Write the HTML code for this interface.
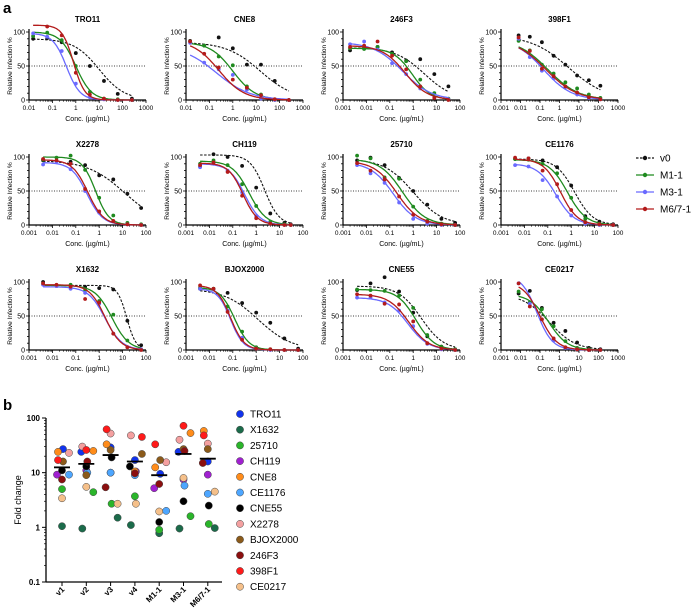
<!DOCTYPE html>
<html><head><meta charset="utf-8"><style>
html,body{margin:0;padding:0;background:#fff;}
svg{display:block;font-family:"Liberation Sans",Arial,sans-serif;}
</style></head><body>
<svg id="fig" width="691" height="614" viewBox="0 0 691 614" xmlns="http://www.w3.org/2000/svg">
<text x="3" y="13" font-size="15" font-weight="bold">a</text>
<text x="3" y="410" font-size="15" font-weight="bold">b</text>
<g id="legendA"></g>
</svg>
<script>
// ---------- Panel a data ----------
const panelNames = ["TRO11","CNE8","246F3","398F1","X2278","CH119","25710","CE1176","X1632","BJOX2000","CNE55","CE0217"];
const panelXMin = [-2,-2,-3,-3,-3,-3,-3,-3,-3,-3,-3,-3];
const panelXMax = [3,3,2,3,2,2,2,2,2,2,2,3];
const panelConcs = [
 [0.015,0.06,0.25,1,4,16,62,250],
 [0.015,0.06,0.25,1,4,16,62,250],
 [0.002,0.008,0.03,0.125,0.5,2,8,32],
 [0.008,0.03,0.125,0.5,2,8,32,125],
 [0.004,0.015,0.06,0.25,1,4,16,62],
 [0.004,0.015,0.06,0.25,1,4,16,30],
 [0.004,0.015,0.06,0.25,1,4,16,62],
 [0.004,0.015,0.06,0.25,1,4,16,62],
 [0.004,0.015,0.06,0.25,1,4,16,62],
 [0.004,0.015,0.06,0.25,1,4,16,62],
 [0.004,0.015,0.06,0.25,1,4,16,62],
 [0.008,0.03,0.125,0.5,2,8,32,125]
];
const seriesNames = ["v0","M1-1","M3-1","M6/7-1"];
// fit parameters per panel: [v0, M1-1, M3-1, M6/7-1]
const fitTop = [[90,100,98,110],[85,85,80,88],[77,76,85,80],[95,90,90,90],[95,100,92,96],[103,94,90,91],[97,97,92,94],[97,96,90,97],[95,95,93,96],[90,92,90,95],[94,89,77,82],[82,82,110,100]];
const fitIC50 = [[10,1.0,0.4,0.8],[15,1,0.2,0.25],[3,0.9,0.35,0.45],[3,0.25,0.15,0.2],[12,0.7,0.3,0.33],[2.3,0.5,0.32,0.27],[1,0.35,0.14,0.2],[1.4,0.7,0.22,0.35],[15,3.5,1.8,1.8],[1.2,0.12,0.08,0.08],[2.2,1.3,0.6,0.65],[0.3,0.28,0.07,0.1]];
const fitHill = [[0.8,1.3,1.5,1.8],[0.6,0.9,0.6,0.8],[0.7,1.1,0.7,0.9],[0.45,0.55,0.6,0.55],[0.55,1.5,1.3,1.3],[1.4,1.2,1.3,1.4],[0.7,0.9,0.9,0.9],[1.1,1.1,1.1,1.2],[2.2,1.2,1.2,1.3],[0.6,1.4,1.6,1.5],[0.9,1.1,1.0,1.0],[0.65,0.9,1.1,1.0]];
const ptsV0 = [[90,91,85,69,50,28,9,2],[87,80,92,76,52,52,28,0],[73,76,78,70,58,60,38,20],[95,93,85,65,52,36,29,21],[95,94,93,88,73,67,46,25],[86,104,100,87,55,17,3,1],[95,99,88,69,50,30,9,3],[97,98,95,85,58,13,5,1],[100,94,95,93,91,89,43,7],[90,90,84,69,55,40,17,2],[88,98,107,86,55,20,5,1],[83,87,62,40,28,11,3,1]];
const ptsM1 = [[94,99,88,50,12,2,1,0],[86,80,64,51,20,8,1,0],[76,75,78,68,57,30,10,2],[87,73,52,39,26,17,8,3],[96,99,102,81,40,14,3,1],[90,95,88,60,28,5,1,0],[102,98,70,68,27,6,2,0],[97,96,90,76,40,9,2,0],[97,95,96,88,72,52,14,1],[92,90,64,27,4,1,0,0],[89,88,87,80,62,22,5,1],[86,70,60,35,13,3,1,0]];
const ptsM3 = [[98,93,72,24,4,1,0,0],[84,55,45,37,15,2,0,0],[82,86,74,54,38,17,4,1],[90,63,43,32,19,8,3,1],[89,93,82,50,18,5,1,0],[85,90,80,48,13,2,0,0],[88,76,62,33,9,2,0,0],[88,86,66,42,14,2,0,0],[96,94,90,84,68,24,4,1],[90,89,58,18,2,0,0,0],[77,77,70,58,35,9,1,0],[98,68,45,14,3,1,0,0]];
const ptsM6 = [[null,108,95,40,8,2,0,0],[86,68,48,30,18,7,1,0],[78,80,86,65,45,20,3,0],[92,72,46,35,20,11,4,1],[97,95,90,53,20,6,1,0],[88,92,78,43,10,2,0,0],[91,80,67,42,15,5,1,0],[99,98,80,60,22,4,1,0],[98,96,93,75,70,24,4,0],[95,90,56,15,2,1,0,0],[82,80,68,67,42,10,2,0],[98,64,45,17,4,1,0,0]];
const seriesColors = ["#111111","#1f8a1f","#6a6aff","#b31b1b"];

// ---------- Panel b data ----------
const strains = ["TRO11","X1632","25710","CH119","CNE8","CE1176","CNE55","X2278","BJOX2000","246F3","398F1","CE0217"];
const strainColors = ["#1133ee","#1b6b4a","#2ab52a","#a020d0","#ff8c1a","#4da6ff","#000000","#f4a0a0","#8b5a1a","#8b0f0f","#ff1a1a","#f5c08a"];
const variants = ["v1","v2","v3","v4","M1-1","M3-1","M6/7-1"];
const foldV1 = [27,1.05,5,9.2,24,9.2,11,23,16,7.5,17,3.4];
const foldV2 = [24,0.95,4.4,11,25,10,13,30,9,16,26,5.5];
const foldV3 = [29,1.5,2.7,10,33,10,19,52,26,5.4,62,2.7];
const foldV4 = [17,1.1,3.7,10.5,10.5,9,13,48,22,9.7,45,2.7];
const foldM1 = [9.5,0.78,0.9,5.2,12.5,2,1.25,15.5,17,6.2,33,1.95];
const foldM3 = [24,0.95,1.6,7.5,53,5.8,3,40,27,25,72,8];
const foldM6 = [16,0.97,1.15,9.2,58,4.1,2.5,34,27,15,48,4.5];
const foldMeans = [12.5,14.5,21,16,9,22,18];

const NS="http://www.w3.org/2000/svg";
const svg=document.getElementById('fig');
function mk(tag,attrs,parent){const e=document.createElementNS(NS,tag);for(const k in attrs)e.setAttribute(k,attrs[k]);(parent||svg).appendChild(e);return e;}

const colX=[29,186,343,501], rowY=[32,157,282], PW=117, PH=68;
const allPts=[ptsV0,ptsM1,ptsM3,ptsM6];
panelNames.forEach((name,p)=>{
  const ox=colX[p%4], oy=rowY[Math.floor(p/4)];
  const g=mk('g',{});
  
  
  const lo=panelXMin[p], hi=panelXMax[p];
  const xs=v=>ox+(Math.log10(v)-lo)/(hi-lo)*PW;
  const ys=v=>oy+PH-v/100*PH;
  const t=mk('text',{x:ox+PW/2,y:oy-10,'font-size':8,'font-weight':'bold','text-anchor':'middle'},g);t.textContent=name;
  
  
  // axes
  mk('line',{x1:ox,y1:oy-3,x2:ox,y2:oy+PH,stroke:'#000','stroke-width':1.2},g);
  mk('line',{x1:ox,y1:oy+PH,x2:ox+PW,y2:oy+PH,stroke:'#000','stroke-width':1.2},g);
  for(let v=0;v<=100;v+=10){const y=ys(v);mk('line',{x1:ox-(v%50?2:3),y1:y,x2:ox,y2:y,stroke:'#000','stroke-width':0.8},g);}
  [0,50,100].forEach(v=>{const tt=mk('text',{x:ox-4,y:ys(v)+2.5,'font-size':7,'text-anchor':'end'},g);tt.textContent=v;});
  for(let d=lo;d<=hi;d++){
    const x=ox+(d-lo)/(hi-lo)*PW;
    mk('line',{x1:x,y1:oy+PH,x2:x,y2:oy+PH+3,stroke:'#000','stroke-width':0.8},g);
    const lab=mk('text',{x:x,y:oy+PH+10,'font-size':6.5,'text-anchor':'middle'},g);
    lab.textContent=d<0?(Math.pow(10,d)).toFixed(-d):String(Math.pow(10,d));
    if(d<hi)for(let m=2;m<10;m++){const xm=xs(m*Math.pow(10,d));mk('line',{x1:xm,y1:oy+PH,x2:xm,y2:oy+PH+1.8,stroke:'#000','stroke-width':0.6},g);}
  }
  const xl=mk('text',{x:ox+PW/2,y:oy+PH+21,'font-size':7,'text-anchor':'middle'},g);xl.textContent='Conc. (µg/mL)';
  
  
  const yl=mk('text',{x:0,y:0,'font-size':6.5,'text-anchor':'middle',transform:`translate(${ox-17},${oy+PH/2}) rotate(-90)`},g);yl.textContent='Relative Infection %';
  
  
  mk('line',{x1:ox,y1:ys(50),x2:ox+PW,y2:ys(50),stroke:'#000','stroke-width':0.8,'stroke-dasharray':'1 1.5'},g);
  const concs=panelConcs[p];
  for(let s=0;s<4;s++){
    const top=fitTop[p][s], ic=fitIC50[p][s], h=fitHill[p][s];
    const l0=Math.log10(concs[0]), l1=Math.log10(concs[concs.length-1]);
    let d='';
    for(let i=0;i<=80;i++){const lx=l0+(l1-l0)*i/80;const c=Math.pow(10,lx);const y=top/(1+Math.pow(c/ic,h));d+=(i?'L':'M')+xs(c).toFixed(1)+','+ys(y).toFixed(1);}
    const path=mk('path',{d:d,fill:'none',stroke:seriesColors[s],'stroke-width':s===0?1.1:1.3,'stroke-dasharray':s===0?'2.5 1.5':'none'},g);
    
    
    allPts[s][p].forEach((v,i)=>{
      if(v===null)return;
      const c=mk('circle',{cx:xs(concs[i]),cy:ys(v),r:1.9,fill:seriesColors[s]},g);
      
      
    });
  }
});
// legend a
const lg=document.getElementById('legendA');
seriesNames.forEach((n,s)=>{
  const y=158+s*17;
  mk('line',{x1:636,y1:y,x2:654,y2:y,stroke:seriesColors[s],'stroke-width':1.3,'stroke-dasharray':s===0?'2.5 1.5':'none'},lg);
  mk('circle',{cx:645,cy:y,r:2.2,fill:seriesColors[s]},lg);
  const t=mk('text',{x:660,y:y+3.5,'font-size':10},lg);t.textContent=n;
  
  
});

// ---------- Panel b ----------
const gb=mk('g',{});


const bx0=46,bx1=222,by100=418,by01=582;
const byS=v=>by01-(Math.log10(v)+1)/3*(by01-by100);
const bxS=i=>62+i*24.3;
mk('line',{x1:bx0,y1:by100,x2:bx0,y2:by01,stroke:'#000','stroke-width':1.3},gb);
mk('line',{x1:bx0,y1:by01,x2:bx1,y2:by01,stroke:'#000','stroke-width':1.3},gb);
const bTicks=[0.1,1,10,100], bTickLabels=["0.1","1","10","100"];
bTicks.forEach((v,i)=>{const y=byS(v);mk('line',{x1:bx0-4,y1:y,x2:bx0,y2:y,stroke:'#000','stroke-width':1},gb);
  const t=mk('text',{x:bx0-6,y:y+3,'font-size':8,'font-weight':'bold','text-anchor':'end'},gb);t.textContent=bTickLabels[i];
  if(i<3)for(let m=2;m<10;m++){const ym=byS(v*m);mk('line',{x1:bx0-2,y1:ym,x2:bx0,y2:ym,stroke:'#000','stroke-width':0.7},gb);}
});
const yt=mk('text',{x:0,y:0,'font-size':9,'text-anchor':'middle',transform:`translate(21,500) rotate(-90)`},gb);yt.textContent='Fold change';


const jitter=[1,0,0,-5,-4,7,0,7,1,0,-4,0];
const folds=[foldV1,foldV2,foldV3,foldV4,foldM1,foldM3,foldM6];
variants.forEach((vn,i)=>{
  const x=bxS(i);
  mk('line',{x1:x,y1:by01,x2:x,y2:by01+4,stroke:'#000','stroke-width':1},gb);
  const t=mk('text',{x:0,y:0,'font-size':8,'font-weight':'bold','text-anchor':'end',transform:`translate(${x+3},${by01+8}) rotate(-45)`},gb);t.textContent=vn;
  
  
  folds[i].forEach((v,k)=>{
    const c=mk('circle',{cx:x+jitter[(k+i*3)%12],cy:byS(v),r:3.6,fill:strainColors[k],stroke:'#444','stroke-width':0.5},gb);
    
    
  });
  const m=mk('line',{x1:x-8,y1:byS(foldMeans[i]),x2:x+8,y2:byS(foldMeans[i]),stroke:'#000','stroke-width':1.8},gb);
  
  
});
strains.forEach((s,k)=>{
  const y=414+k*15.7;
  mk('circle',{cx:240,cy:y,r:3.6,fill:strainColors[k],stroke:'#444','stroke-width':0.5},gb);
  const t=mk('text',{x:250,y:y+3.5,'font-size':10},gb);t.textContent=s;
  
  
});
</script>
</body></html>
